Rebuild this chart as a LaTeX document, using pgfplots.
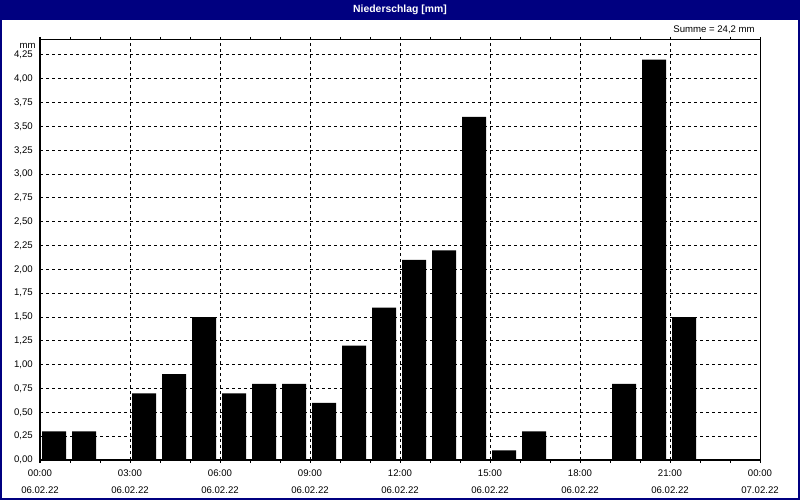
\documentclass[border=0pt]{standalone}
\usepackage{fontspec}
\setmainfont{Liberation Sans}
\usepackage{pgfplots}
\pgfplotsset{compat=1.18}
\definecolor{winnavy}{RGB}{0,0,128}

\begin{document}
\begin{tikzpicture}[x=0.75pt,y=0.75pt]
% window frame and title bar
\fill[winnavy] (0,0) rectangle (800,500);
\fill[white] (2,2) rectangle (798,480);
\node[text=white, font=\fontsize{7.8}{9}\selectfont\bfseries] at (400,490) {Niederschlag [mm]};
\node[anchor=east, font=\fontsize{7.2}{9}\selectfont, inner sep=0pt] at (755,470) {Summe = 24,2 mm};
\node[anchor=east, font=\fontsize{7.2}{9}\selectfont, inner sep=0pt] at (36,454) {mm};

\begin{axis}[
  at={(30pt,30pt)}, anchor=south west,
  scale only axis, width=540pt, height=315pt,
  xmin=0, xmax=24, ymin=0, ymax=4.407,
  axis line style={black, line width=0.75pt},
  xtick={0,3,...,24},
  xticklabels={{00:00\\06.02.22},{03:00\\06.02.22},{06:00\\06.02.22},{09:00\\06.02.22},
    {12:00\\06.02.22},{15:00\\06.02.22},{18:00\\06.02.22},{21:00\\06.02.22},{00:00\\07.02.22}},
  minor xtick={1,2,4,5,7,8,10,11,13,14,16,17,19,20,22,23},
  ytick={0,0.25,...,4.26},
  tick align=outside,
  major tick length=2.25pt, minor tick length=2.25pt,
  tick style={black, line width=0.75pt},
  ytick style={draw=none},
  xmajorgrids, ymajorgrids,
  major grid style={black, line width=0.75pt, dash pattern=on 2.25pt off 2.25pt},
  xticklabel style={align=center, font=\fontsize{7.2}{12.75}\selectfont, inner sep=0pt, yshift=-5pt},
  yticklabel style={font=\fontsize{7.2}{9}\selectfont, inner sep=0pt, xshift=-3pt},
  /pgf/number format/assume math mode=true,
  yticklabel style={/pgf/number format/fixed, /pgf/number format/fixed zerofill,
    /pgf/number format/precision=2, /pgf/number format/use comma},
  axis on top,
]
\addplot[ybar, bar width=18pt, fill=black, draw=none] coordinates {
  (0.47,0.3)(1.47,0.3)(2.47,0)(3.47,0.7)(4.47,0.9)(5.47,1.5)(6.47,0.7)(7.47,0.8)
  (8.47,0.8)(9.47,0.6)(10.47,1.2)(11.47,1.6)(12.47,2.1)(13.47,2.2)(14.47,3.6)(15.47,0.1)
  (16.47,0.3)(17.47,0)(18.47,0)(19.47,0.8)(20.47,4.2)(21.47,1.5)(22.47,0)(23.47,0)};
\end{axis}
\end{tikzpicture}
\end{document}
